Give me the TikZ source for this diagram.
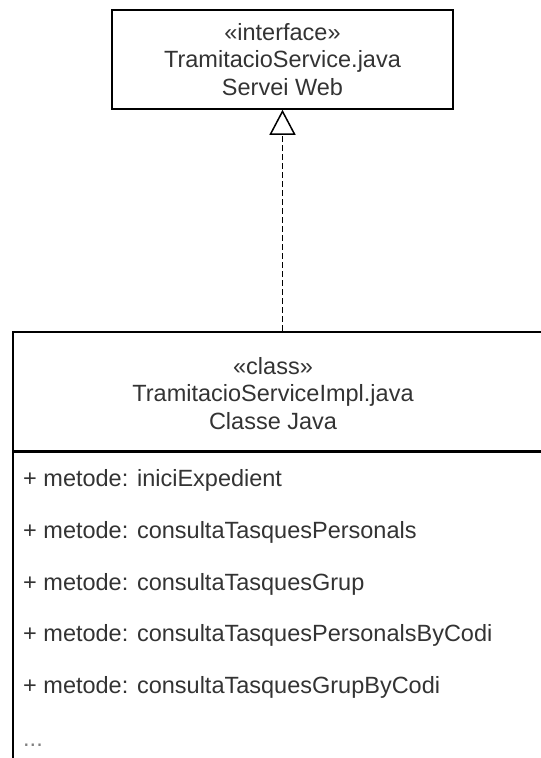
\documentclass[tikz,border=0pt]{standalone}
\usepackage{fontspec}
\setmainfont{Liberation Sans}
\usetikzlibrary{arrows.meta}
\definecolor{texte}{RGB}{51,51,51}

\tikzset{
  umlbox/.style={draw, line width=1.5pt, inner sep=0pt},
  umltext/.style={text=texte, align=center, font=\fontsize{23.5}{27.5}\selectfont},
  metode/.style={text=texte, anchor=base west, inner sep=0pt, font=\fontsize{23.5}{27.5}\selectfont}
}

\begin{document}
\begin{tikzpicture}[x=1pt,y=-1pt]
\useasboundingbox (0,0) rectangle (541,758);

\node[umlbox, minimum width=341pt, minimum height=99pt] (iface) at (282.5,59.5) {};
\node[umltext] (ifacename) at (iface.center) {«interface»\\TramitacioService.java\\Servei Web};

\node[umlbox, anchor=north west, minimum width=600pt, minimum height=119pt] (impl) at (12,331) {};
\node[umltext] (implname) at (273,393.5) {«class»\\TramitacioServiceImpl.java\\Classe Java};
\node[umlbox, anchor=north west, minimum width=600pt, minimum height=400pt] (ops) at (impl.south west) {};

\node[metode] (m1) at (23,486) {+ metode: iniciExpedient};
\node[metode] (m2) at (23,538) {+ metode: consultaTasquesPersonals};
\node[metode] (m3) at (23,590) {+ metode: consultaTasquesGrup};
\node[metode] (m4) at (23,641) {+ metode: consultaTasquesPersonalsByCodi};
\node[metode] (m5) at (23,693) {+ metode: consultaTasquesGrupByCodi};
\node[metode, text=gray] (m6) at (23,746) {...};

\draw[line width=1.5pt, dash pattern=on 6pt off 3pt, -{Triangle[open, length=25pt, width=26pt]}] (iface.south |- impl.north) -- (iface.south);
\end{tikzpicture}
\end{document}
